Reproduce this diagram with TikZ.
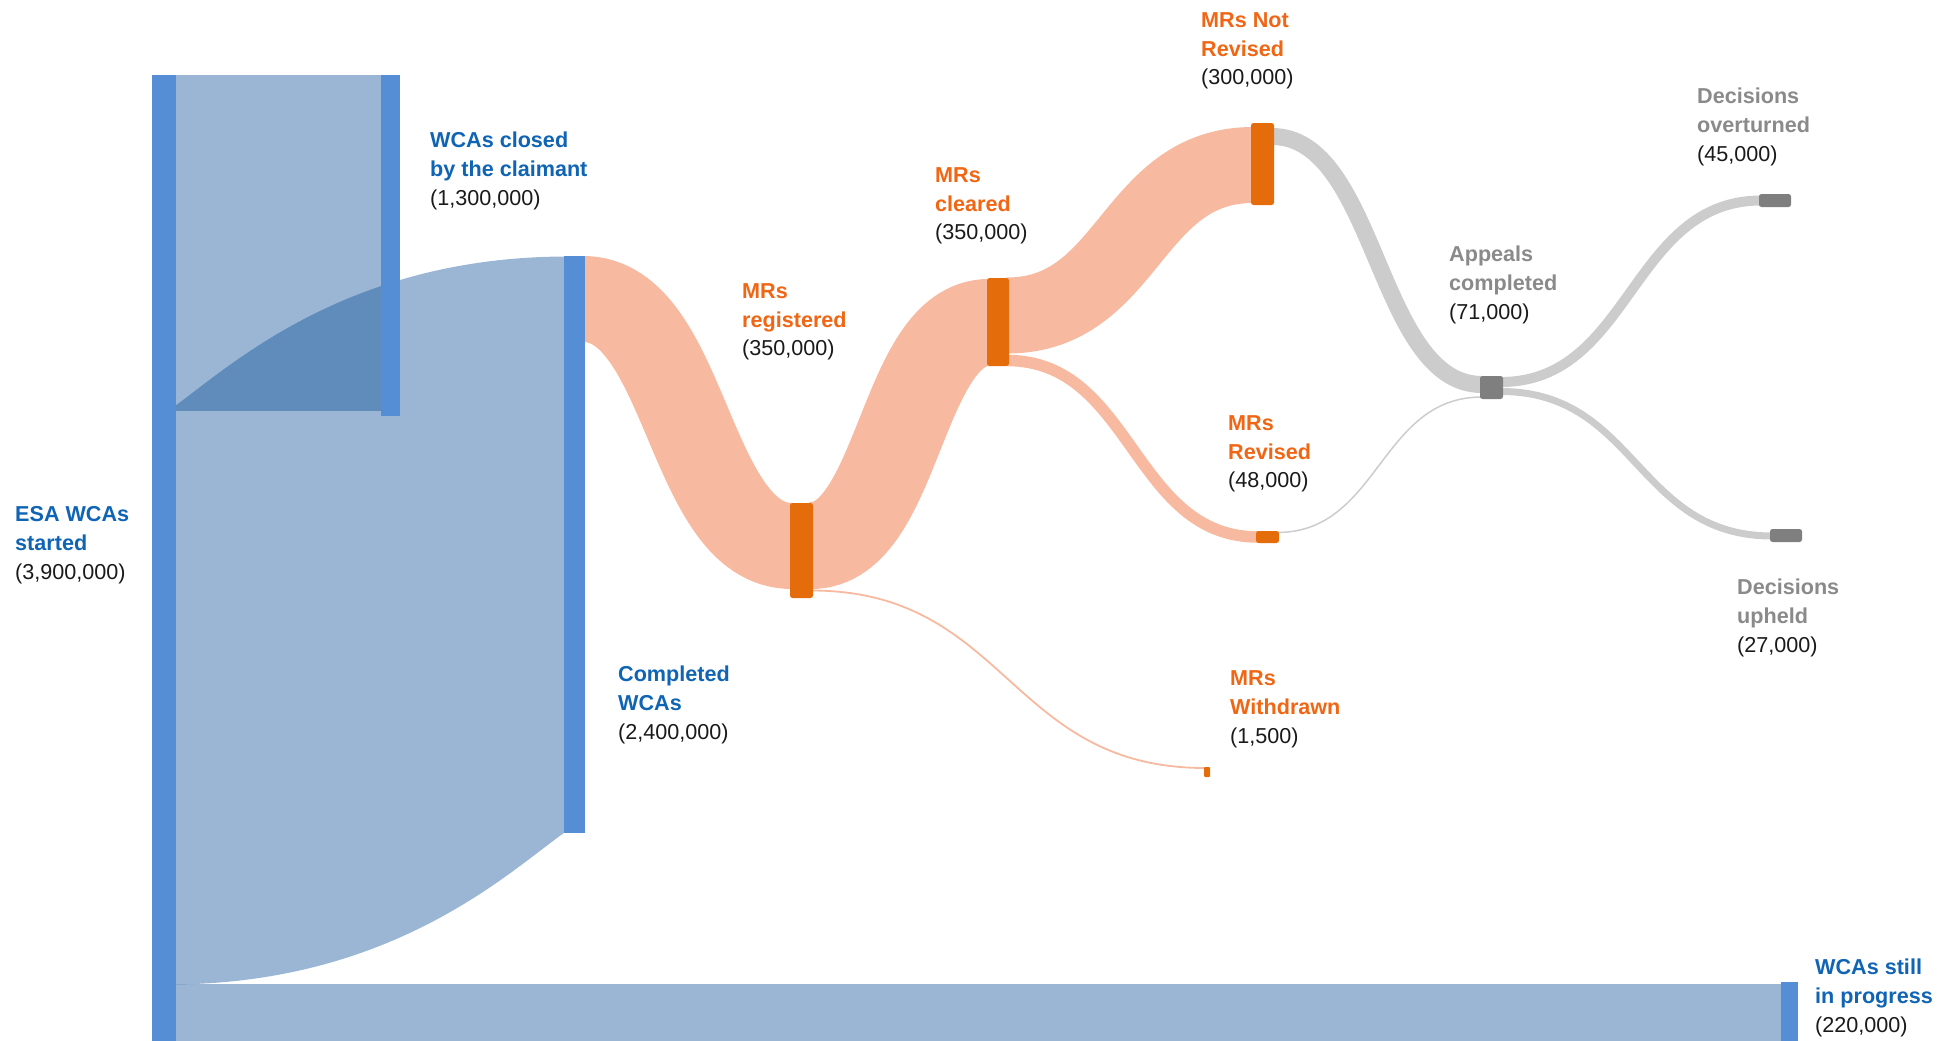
\documentclass[tikz,border=0pt]{standalone}
\usepackage{fontspec}
\setmainfont{Liberation Sans}
\usetikzlibrary{calc}
\definecolor{barblue}{HTML}{558ED5}
\definecolor{linkblue}{RGB}{12,80,152}
\definecolor{linkorange}{HTML}{F7BAA0}
\definecolor{barorange}{HTML}{E46C0A}
\definecolor{linkgrey}{HTML}{CCCCCC}
\definecolor{bargrey}{HTML}{7F7F7F}
\definecolor{lblblue}{RGB}{16,100,180}
\definecolor{lblorange}{RGB}{240,102,20}
\definecolor{lblgrey}{HTML}{8A8A8A}
\definecolor{numtxt}{HTML}{1A1A1A}
\newcommand{\nmb}[1]{{\color{lblblue}\bfseries #1}}
\newcommand{\nmo}[1]{{\color{lblorange}\bfseries #1}}
\newcommand{\nmg}[1]{{\color{lblgrey}\bfseries #1}}
\tikzset{
  sk/.style={to path={let \p1=(\tikztostart), \p2=(\tikztotarget) in
      .. controls ({(\x1+\x2)/2},\y1) and ({(\x1+\x2)/2},\y2) .. (\tikztotarget)}},
  lk/.style={sk, line width=#1},
  bluelink/.style={draw=linkblue, draw opacity=0.416},
  orangelink/.style={draw=linkorange},
  greylink/.style={draw=linkgrey},
  bluebar/.style={fill=barblue, draw=none, inner sep=0pt, outer sep=0pt},
  orangebar/.style={fill=barorange, draw=none, inner sep=0pt, outer sep=0pt, rounded corners=2.5pt},
  greybar/.style={fill=bargrey, draw=none, inner sep=0pt, outer sep=0pt, rounded corners=2.5pt},
  lbl/.style={anchor=west, align=left, inner sep=0pt, text=numtxt,
      font=\fontsize{21.6}{28.8}\selectfont}
}
\begin{document}
\begin{tikzpicture}[x=1pt,y=-1pt]
\useasboundingbox (0,0) rectangle (1952,1041);
% link end points (slightly inside the bars)
\coordinate (AB-s) at (170,243);   \coordinate (AB-e) at (383,243);
\coordinate (AC-s) at (168,697);   \coordinate (AC-e) at (568,544);
\coordinate (AD-s) at (170,1012.5);\coordinate (AD-e) at (1783,1012.5);
\coordinate (CR-s) at (583,299);   \coordinate (CR-e) at (792,546);
\coordinate (RC-s) at (811,545.5); \coordinate (RC-e) at (989,322.5);
\coordinate (RW-s) at (811,590.5); \coordinate (RW-e) at (1205,768);
\coordinate (CN-s) at (1007,315.5);\coordinate (CN-e) at (1253,165);
\coordinate (CV-s) at (1007,360.5);\coordinate (CV-e) at (1258,537);
\coordinate (NA-s) at (1272,136.5);\coordinate (NA-e) at (1482,384.5);
\coordinate (VA-s) at (1277,532.5);\coordinate (VA-e) at (1482,397);
\coordinate (AO-s) at (1501,382);  \coordinate (AO-e) at (1761,200.5);
\coordinate (AU-s) at (1501,391.5);\coordinate (AU-e) at (1772,536);
% links
\draw[lk=336pt, bluelink] (AB-s) to (AB-e);
\draw[lk=575pt, bluelink] (AC-s) to (AC-e);
\draw[lk=57pt, bluelink] (AD-s) to (AD-e);
\draw[lk=86pt, orangelink] (CR-s) to (CR-e);
\draw[lk=87pt, orangelink] (RC-s) to (RC-e);
\draw[lk=1.8pt, orangelink] (RW-s) to (RW-e);
\draw[lk=76pt, orangelink] (CN-s) to (CN-e);
\draw[lk=11.5pt, orangelink] (CV-s) to (CV-e);
\draw[lk=17pt, greylink] (NA-s) to (NA-e);
\draw[lk=1.5pt, greylink] (VA-s) to (VA-e);
\draw[lk=10pt, greylink] (AO-s) to (AO-e);
\draw[lk=7pt, greylink] (AU-s) to (AU-e);
% bars
\node[bluebar, minimum width=24pt, minimum height=966pt] (A) at (164,558) {};
\node[bluebar, minimum width=19pt, minimum height=341pt] (B) at (390.5,245.5) {};
\node[bluebar, minimum width=21pt, minimum height=577pt] (C) at (574.5,544.5) {};
\node[bluebar, minimum width=17pt, minimum height=59pt] (D) at (1789.5,1011.5) {};
\node[orangebar, minimum width=23pt, minimum height=95pt] (REG) at (801.5,550.5) {};
\node[orangebar, minimum width=22pt, minimum height=88pt] (CLR) at (998,322) {};
\node[orangebar, minimum width=23pt, minimum height=82pt] (NR) at (1262.5,164) {};
\node[orangebar, minimum width=23pt, minimum height=12pt] (REV) at (1267.5,537) {};
\node[orangebar, minimum width=6pt, minimum height=10pt, rounded corners=1pt] (WD) at (1207,772) {};
\node[greybar, minimum width=23pt, minimum height=23pt] (APP) at (1491.5,387.5) {};
\node[greybar, minimum width=32pt, minimum height=13pt] (OVR) at (1775,200.5) {};
\node[greybar, minimum width=32pt, minimum height=13pt] (UPH) at (1786,535.5) {};
% labels
\node[lbl] (tA) at (15,545) {\nmb{ESA WCAs}\\\nmb{started}\\(3,900,000)};
\node[lbl] (tB) at (430,171) {\nmb{WCAs closed}\\\nmb{by the claimant}\\(1,300,000)};
\node[lbl] (tC) at (618,705) {\nmb{Completed}\\\nmb{WCAs}\\(2,400,000)};
\node[lbl] (tD) at (1815,998) {\nmb{WCAs still}\\\nmb{in progress}\\(220,000)};
\node[lbl] (tREG) at (742,322) {\nmo{MRs}\\\nmo{registered}\\(350,000)};
\node[lbl] (tCLR) at (935,206) {\nmo{MRs}\\\nmo{cleared}\\(350,000)};
\node[lbl] (tNR) at (1201,51) {\nmo{MRs Not}\\\nmo{Revised}\\(300,000)};
\node[lbl] (tREV) at (1228,454) {\nmo{MRs}\\\nmo{Revised}\\(48,000)};
\node[lbl] (tWD) at (1230,709) {\nmo{MRs}\\\nmo{Withdrawn}\\(1,500)};
\node[lbl] (tAPP) at (1449,285) {\nmg{Appeals}\\\nmg{completed}\\(71,000)};
\node[lbl] (tOVR) at (1697,127) {\nmg{Decisions}\\\nmg{overturned}\\(45,000)};
\node[lbl] (tUPH) at (1737,618) {\nmg{Decisions}\\\nmg{upheld}\\(27,000)};
\end{tikzpicture}
\end{document}
